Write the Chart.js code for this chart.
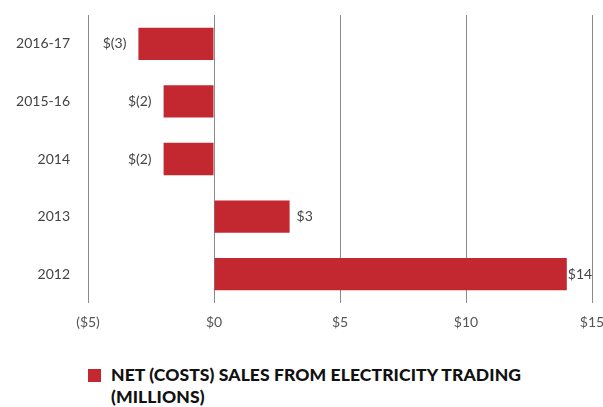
<!DOCTYPE html>
<html>
<head>
<meta charset="utf-8">
<script src="https://cdn.jsdelivr.net/npm/chart.js@4/dist/chart.umd.min.js"></script>
<style>
  html, body { margin: 0; padding: 0; background: #fff; }
  #wrap { position: relative; width: 603px; height: 340px; }
  #legend { position: absolute; left: 88px; top: 364px; display: flex; align-items: flex-start;
            font-family: Lato, "Open Sans", sans-serif; font-weight: 900; font-size: 17.5px;
            line-height: 22px; color: #111; width: 480px; letter-spacing: 0.1px; }
  #legend .box { width: 13px; height: 13px; margin-top: 5px; margin-right: 10px; flex: none; }
</style>
</head>
<body>
<div id="wrap"><canvas id="chart"></canvas></div>
<div id="legend"></div>
<script>
// data
const years = ['2016-17', '2015-16', '2014', '2013', '2012'];
const netSales = [-3, -2, -2, 3, 14];
const xTicks = ['($5)', '$0', '$5', '$10', '$15'];
const seriesLabel = 'NET (COSTS) SALES FROM ELECTRICITY TRADING (MILLIONS)';

const red = '#c3272f';
const font = 'Lato, "Open Sans", sans-serif';

const fmt = v => v < 0 ? '$(' + Math.abs(v) + ')' : '$' + v;

const barLabels = {
    id: 'barLabels',
    afterDatasetsDraw(chart) {
        const ctx = chart.ctx;
        const meta = chart.getDatasetMeta(0);
        ctx.save();
        ctx.font = '14px ' + font;
        ctx.fillStyle = '#444';
        ctx.textBaseline = 'middle';
        meta.data.forEach((bar, i) => {
            const v = chart.data.datasets[0].data[i];
            if (v < 0) {
                ctx.textAlign = 'right';
                ctx.fillText(fmt(v), bar.x - 12, bar.y);
            } else {
                ctx.textAlign = 'left';
                ctx.fillText(fmt(v), bar.x + (v > 10 ? 1 : 7), bar.y);
            }
        });
        ctx.restore();
    }
};

const chart = new Chart(document.getElementById('chart'), {
    type: 'bar',
    data: {
        labels: years,
        datasets: [{
            label: seriesLabel,
            data: netSales,
            backgroundColor: red,
            borderWidth: 0,
            barPercentage: 0.56,
            categoryPercentage: 1,
        }]
    },
    options: {
        indexAxis: 'y',
        responsive: true,
        maintainAspectRatio: false,
        animation: { duration: 0 },
        layout: { padding: { top: 15, right: 11, left: 0, bottom: 0 } },
        scales: {
            x: {
                min: -5,
                max: 15,
                ticks: {
                    stepSize: 5,
                    padding: 11,
                    color: '#555',
                    font: { family: font, size: 14 },
                    callback: (v, i) => xTicks[i],
                },
                grid: { color: '#8a8a8a', lineWidth: 1, drawTicks: false },
                border: { display: false },
                afterFit: s => { s.height = 37; s.paddingLeft = 0; s.paddingRight = 0; },
            },
            y: {
                ticks: {
                    padding: 18,
                    color: '#444',
                    font: { family: font, size: 14 },
                },
                grid: { display: false, drawTicks: false },
                border: { display: false },
                afterFit: s => { s.width = 88; s.paddingTop = 0; s.paddingBottom = 0; },
            }
        },
        plugins: {
            legend: { display: false },
            tooltip: { enabled: false },
        }
    },
    plugins: [barLabels],
});

// html legend so the long label can wrap
const legend = document.getElementById('legend');
chart.data.datasets.forEach(ds => {
    const box = document.createElement('span');
    box.className = 'box';
    box.style.background = ds.backgroundColor;
    const txt = document.createElement('span');
    txt.textContent = ds.label;
    legend.appendChild(box);
    legend.appendChild(txt);
});
</script>
</body>
</html>
